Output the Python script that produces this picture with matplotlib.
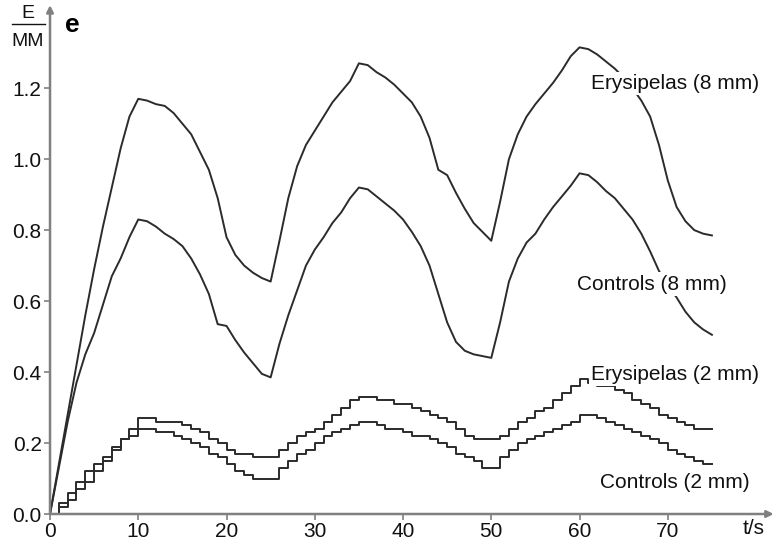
import numpy as np
from matplotlib import pyplot as plt
from matplotlib.lines import Line2D

plt.rcParams['font.family'] = ['Liberation Sans', 'DejaVu Sans']

# time axis, one reading per second
t = np.arange(0, 76)

eryth_8mm = [0.00, 0.14, 0.28, 0.42, 0.56, 0.69, 0.81, 0.92, 1.03, 1.12,
             1.17, 1.165, 1.155, 1.15, 1.13, 1.10, 1.07, 1.02, 0.97, 0.89,
             0.78, 0.73, 0.70, 0.68, 0.665, 0.655, 0.77, 0.89, 0.98, 1.04,
             1.08, 1.12, 1.16, 1.19, 1.22, 1.27, 1.265, 1.245, 1.23, 1.21,
             1.185, 1.16, 1.12, 1.06, 0.97, 0.955, 0.905, 0.86, 0.82, 0.795,
             0.77, 0.88, 1.00, 1.07, 1.12, 1.155, 1.185, 1.215, 1.25, 1.29,
             1.315, 1.31, 1.295, 1.275, 1.255, 1.23, 1.20, 1.165, 1.12, 1.04,
             0.94, 0.865, 0.825, 0.80, 0.79, 0.785]

ctrl_8mm = [0.00, 0.13, 0.26, 0.37, 0.45, 0.51, 0.59, 0.67, 0.72, 0.78,
            0.83, 0.825, 0.81, 0.79, 0.775, 0.755, 0.72, 0.675, 0.62, 0.535,
            0.53, 0.49, 0.455, 0.425, 0.395, 0.385, 0.48, 0.56, 0.63, 0.70,
            0.745, 0.78, 0.82, 0.85, 0.89, 0.92, 0.915, 0.895, 0.875, 0.855,
            0.83, 0.795, 0.755, 0.70, 0.62, 0.54, 0.485, 0.46, 0.45, 0.445,
            0.44, 0.54, 0.655, 0.72, 0.765, 0.79, 0.83, 0.865, 0.895, 0.925,
            0.96, 0.955, 0.935, 0.91, 0.89, 0.86, 0.83, 0.79, 0.74, 0.685,
            0.645, 0.61, 0.57, 0.54, 0.52, 0.505]

eryth_2mm = [0.00, 0.03, 0.06, 0.09, 0.12, 0.14, 0.16, 0.19, 0.21, 0.24,
             0.27, 0.27, 0.26, 0.26, 0.26, 0.25, 0.24, 0.23, 0.21, 0.20,
             0.18, 0.17, 0.17, 0.16, 0.16, 0.16, 0.18, 0.20, 0.22, 0.23,
             0.24, 0.26, 0.28, 0.30, 0.32, 0.33, 0.33, 0.32, 0.32, 0.31,
             0.31, 0.30, 0.29, 0.28, 0.27, 0.26, 0.24, 0.22, 0.21, 0.21,
             0.21, 0.22, 0.24, 0.26, 0.27, 0.29, 0.30, 0.32, 0.34, 0.36,
             0.38, 0.37, 0.36, 0.36, 0.35, 0.34, 0.32, 0.31, 0.30, 0.28,
             0.27, 0.26, 0.25, 0.24, 0.24, 0.24]

ctrl_2mm = [0.00, 0.02, 0.04, 0.07, 0.09, 0.12, 0.15, 0.18, 0.21, 0.22,
            0.24, 0.24, 0.23, 0.23, 0.22, 0.21, 0.20, 0.19, 0.17, 0.16,
            0.14, 0.12, 0.11, 0.10, 0.10, 0.10, 0.13, 0.15, 0.17, 0.18,
            0.20, 0.22, 0.23, 0.24, 0.25, 0.26, 0.26, 0.25, 0.24, 0.24,
            0.23, 0.22, 0.22, 0.21, 0.20, 0.19, 0.17, 0.16, 0.15, 0.13,
            0.13, 0.16, 0.18, 0.20, 0.21, 0.22, 0.23, 0.24, 0.25, 0.26,
            0.28, 0.28, 0.27, 0.26, 0.25, 0.24, 0.23, 0.22, 0.21, 0.20,
            0.18, 0.17, 0.16, 0.15, 0.14, 0.14]

xticks = np.arange(0, 80, 10)
yticks = np.arange(0, 1.3, 0.2)

labels = ['Erysipelas (8 mm)', 'Controls (8 mm)', 'Erysipelas (2 mm)', 'Controls (2 mm)']
label_pos = [(61.3, 1.214), (59.7, 0.648), (61.3, 0.394), (62.3, 0.09)]

fig = plt.figure(figsize=(7.79, 5.46), dpi=100)
ax = fig.add_axes([0.0642, 0.0586, 0.929, 0.932])

lc = '#2b2b2b'
ax.plot(t, eryth_8mm, color=lc, lw=1.4)
ax.plot(t, ctrl_8mm, color=lc, lw=1.4)
ax.plot(t, eryth_2mm, color=lc, lw=1.4, drawstyle='steps-post')
ax.plot(t, ctrl_2mm, color=lc, lw=1.4, drawstyle='steps-post')

for lab, (x, y) in zip(labels, label_pos):
    ax.text(x, y, lab, fontsize=15, ha='left', va='center', color='#111111',
            bbox=dict(facecolor='white', edgecolor='none', pad=1.5), zorder=5)

ax.set_xlim(0, 82)
ax.set_ylim(0, 1.434)
ax.set_xticks(xticks)
ax.set_yticks(yticks)
ax.set_yticklabels(['%.1f' % v for v in yticks])
ax.tick_params(labelsize=15, length=4, width=1.2, color='#808080',
               labelcolor='#111111', pad=2)

for s in ax.spines.values():
    s.set_visible(False)
arr = dict(arrowstyle='-|>', color='#808080', lw=1.8, mutation_scale=10,
           shrinkA=0, shrinkB=0)
ax.annotate('', xy=(0, 1), xytext=(0, 0), xycoords='axes fraction', arrowprops=arr)
ax.annotate('', xy=(1, 0), xytext=(0, 0), xycoords='axes fraction', arrowprops=arr)

# axis units
fig.text(28/779, 1-14/546, 'E', fontsize=14, ha='center', va='center', color='#111111')
fig.text(28/779, 1-42/546, 'MM', fontsize=14, ha='center', va='center', color='#111111')
fig.add_artist(Line2D([12/779, 45/779], [1-24/546, 1-24/546], color='#111111', lw=1))
fig.text(72/779, 1-25/546, 'e', fontsize=19, fontweight='bold', ha='center', va='center')
fig.text(754/779, 1-528/546, 't/s', fontsize=15, ha='center', va='center', color='#111111')

plt.savefig('out.png', dpi=100)
